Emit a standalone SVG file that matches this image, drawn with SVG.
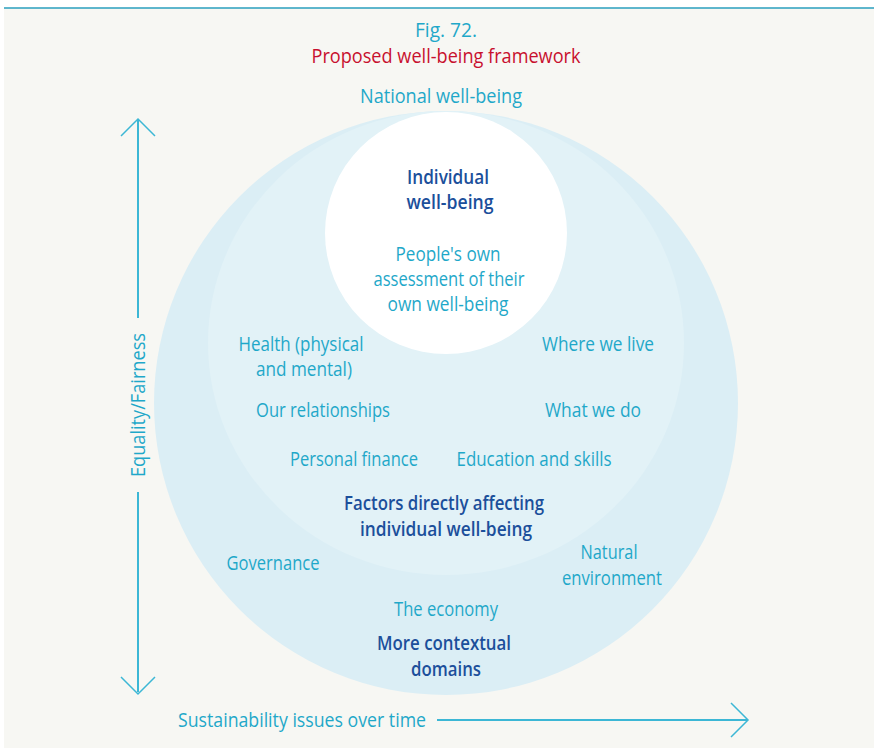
<svg xmlns="http://www.w3.org/2000/svg" width="874" height="748" viewBox="0 0 874 748">
<style>
text{font-family:"Open Sans","Noto Sans",sans-serif;font-size:20px;text-anchor:middle}
.lt{fill:#1fa8c9}
.dk{fill:#1b4f9b;font-weight:600}
.rd{fill:#c8102e}
.ax{stroke:#3cb7d5;stroke-width:2;fill:none}
.hd{stroke:#3cb7d5;stroke-width:1.5;fill:none}
</style>
<rect x="0" y="0" width="874" height="748" fill="#ffffff"/>
<rect x="4" y="8" width="870" height="740" fill="#f7f7f3"/>
<line x1="4" y1="8" x2="874" y2="8" stroke="#2a9fbe" stroke-width="1.5"/>
<g id="title">
<text class="lt" x="446" y="37" textLength="62" lengthAdjust="spacingAndGlyphs">Fig. 72.</text>
<text class="rd" x="446" y="63" textLength="269" lengthAdjust="spacingAndGlyphs">Proposed well-being framework</text>
</g>
<g id="national">
<text class="lt" x="441" y="103" textLength="162" lengthAdjust="spacingAndGlyphs">National well-being</text>
</g>
<g id="contextual">
<circle cx="446" cy="403" r="292" fill="#dbeef5"/>
</g>
<g id="factors">
<ellipse cx="446" cy="343" rx="238" ry="232" fill="#e2f2f7"/>
</g>
<g id="individual">
<circle cx="446" cy="233" r="121" fill="#ffffff"/>
<text class="dk" x="448" y="184" textLength="82" lengthAdjust="spacingAndGlyphs">Individual</text>
<text class="dk" x="450" y="209" textLength="87" lengthAdjust="spacingAndGlyphs">well-being</text>
<text class="lt" x="448" y="261" textLength="105" lengthAdjust="spacingAndGlyphs">People's own</text>
<text class="lt" x="449" y="286" textLength="151" lengthAdjust="spacingAndGlyphs">assessment of their</text>
<text class="lt" x="448" y="311" textLength="121" lengthAdjust="spacingAndGlyphs">own well-being</text>
</g>
<g id="factor-labels">
<text class="lt" x="301" y="351" textLength="125" lengthAdjust="spacingAndGlyphs">Health (physical</text>
<text class="lt" x="304" y="376" textLength="96" lengthAdjust="spacingAndGlyphs">and mental)</text>
<text class="lt" x="323" y="417" textLength="134" lengthAdjust="spacingAndGlyphs">Our relationships</text>
<text class="lt" x="354" y="466" textLength="128" lengthAdjust="spacingAndGlyphs">Personal finance</text>
<text class="lt" x="598" y="351" textLength="112" lengthAdjust="spacingAndGlyphs">Where we live</text>
<text class="lt" x="593" y="417" textLength="96" lengthAdjust="spacingAndGlyphs">What we do</text>
<text class="lt" x="534" y="466" textLength="155" lengthAdjust="spacingAndGlyphs">Education and skills</text>
<text class="dk" x="444" y="510" textLength="200" lengthAdjust="spacingAndGlyphs">Factors directly affecting</text>
<text class="dk" x="446" y="536" textLength="172" lengthAdjust="spacingAndGlyphs">individual well-being</text>
</g>
<g id="contextual-labels">
<text class="lt" x="273" y="570" textLength="93" lengthAdjust="spacingAndGlyphs">Governance</text>
<text class="lt" x="609" y="559" textLength="57" lengthAdjust="spacingAndGlyphs">Natural</text>
<text class="lt" x="612" y="585" textLength="100" lengthAdjust="spacingAndGlyphs">environment</text>
<text class="lt" x="446" y="616" textLength="104" lengthAdjust="spacingAndGlyphs">The economy</text>
<text class="dk" x="444" y="650" textLength="134" lengthAdjust="spacingAndGlyphs">More contextual</text>
<text class="dk" x="446" y="676" textLength="70" lengthAdjust="spacingAndGlyphs">domains</text>
</g>
<g id="connectors">
<line class="ax" x1="138" y1="120" x2="138" y2="318"/>
<line class="ax" x1="138" y1="492" x2="138" y2="692"/>
<polyline class="hd" points="121,136 138,119 155,136"/>
<polyline class="hd" points="121,677 138,694 155,677"/>
<line class="ax" x1="437" y1="720" x2="747" y2="720"/>
<polyline class="hd" points="731,703 748,720 731,737"/>
</g>
<g id="axis-labels">
<text class="lt" x="0" y="0" transform="translate(145,405) rotate(-90)" textLength="144" lengthAdjust="spacingAndGlyphs">Equality/Fairness</text>
<text class="lt" x="302" y="727" textLength="248" lengthAdjust="spacingAndGlyphs">Sustainability issues over time</text>
</g>
</svg>
